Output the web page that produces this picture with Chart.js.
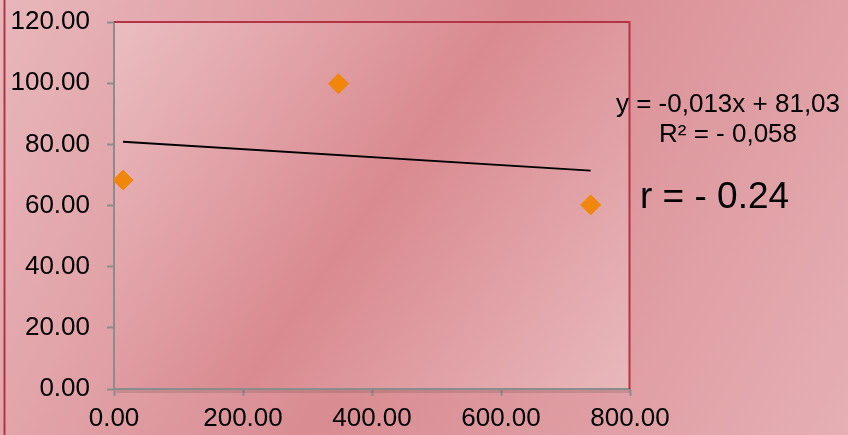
<!DOCTYPE html>
<html>
<head>
<meta charset="utf-8">
<script src="https://cdn.jsdelivr.net/npm/chart.js@4"></script>
<style>
  html, body { margin: 0; padding: 0; background: #dfa0a6; }
  canvas { display: block; }
</style>
</head>
<body>
<canvas id="scatterChart" width="848" height="435"></canvas>
<script>
// valores
const xValues = [14, 348, 739];
const yValues = [68.3, 99.8, 60.2];
const xTicks = [0, 200, 400, 600, 800];
const yTicks = [0, 20, 40, 60, 80, 100, 120];
const slope = -0.013;
const intercept = 81.03;
const equationText = 'y = -0,013x + 81,03';
const r2Text = 'R² = - 0,058';
const rText = 'r = - 0.24';

const FONT = '"Liberation Sans", Arial, sans-serif';

document.addEventListener('DOMContentLoaded', () => {
    const points = xValues.map((x, i) => ({ x: x, y: yValues[i] }));
    const xMin = Math.min(...xValues);
    const xMax = Math.max(...xValues);
    const trend = [xMin, xMax].map(x => ({ x: x, y: slope * x + intercept }));

    const backgroundPlugin = {
        id: 'fundo',
        beforeDraw(chart) {
            const ctx = chart.ctx;
            const w = chart.width, h = chart.height;
            ctx.save();
            let g = ctx.createLinearGradient(0, 0, w, h);
            g.addColorStop(0, '#e8b7bb');
            g.addColorStop(0.5, '#d98c92');
            g.addColorStop(1, '#e5afb4');
            ctx.fillStyle = g;
            ctx.fillRect(0, 0, w, h);

            const a = chart.chartArea;
            g = ctx.createLinearGradient(a.left, a.top, a.right, a.bottom);
            g.addColorStop(0, '#eabdc1');
            g.addColorStop(0.5, '#d98a90');
            g.addColorStop(1, '#e8b8bc');
            ctx.fillStyle = g;
            ctx.fillRect(a.left, a.top, a.right - a.left, a.bottom - a.top);

            // linha vermelha à esquerda
            ctx.strokeStyle = '#b23445';
            ctx.lineWidth = 2;
            ctx.beginPath();
            ctx.moveTo(4.5, 0);
            ctx.lineTo(4.5, h);
            ctx.stroke();
            ctx.restore();
        },
        afterDraw(chart) {
            const ctx = chart.ctx;
            const a = chart.chartArea;
            ctx.save();
            // borda superior e direita
            ctx.strokeStyle = '#b23445';
            ctx.lineWidth = 2;
            ctx.beginPath();
            ctx.moveTo(a.left, a.top);
            ctx.lineTo(a.right - 0.5, a.top);
            ctx.lineTo(a.right - 0.5, a.bottom);
            ctx.stroke();

            // sombra do eixo x
            ctx.fillStyle = 'rgba(90, 60, 60, 0.18)';
            ctx.fillRect(a.left + 2, a.bottom + 1, a.right - a.left - 2, 3);

            ctx.fillStyle = '#000';
            ctx.textAlign = 'center';
            ctx.textBaseline = 'alphabetic';
            ctx.font = '26px ' + FONT;
            ctx.fillText(equationText, 728, 112);
            ctx.fillText(r2Text, 728, 142);
            ctx.textAlign = 'left';
            ctx.font = '37px ' + FONT;
            ctx.fillText(rText, 640, 208);
            ctx.restore();
        }
    };

    const ctx = document.getElementById('scatterChart').getContext('2d');
    const chart = new Chart(ctx, {
        type: 'scatter',
        data: {
            datasets: [{
                label: 'Tendência',
                data: trend,
                showLine: true,
                borderColor: '#000000',
                borderWidth: 1.8,
                pointRadius: 0,
                fill: false
            }, {
                label: 'Dados',
                data: points,
                pointStyle: 'rectRot',
                pointRadius: 10,
                pointBackgroundColor: '#f0860b',
                pointBorderColor: '#f0860b',
                pointBorderWidth: 1
            }]
        },
        options: {
            responsive: false,
            devicePixelRatio: 1,
            animation: false,
            layout: { padding: { top: 22, right: 218, left: 0, bottom: 0 } },
            plugins: { legend: { display: false }, tooltip: { enabled: false } },
            scales: {
                x: {
                    type: 'linear',
                    min: xTicks[0],
                    max: xTicks[xTicks.length - 1],
                    afterBuildTicks: s => { s.ticks = xTicks.map(v => ({ value: v })); },
                    afterFit: s => { s.height = 46; s.paddingLeft = 0; s.paddingRight = 0; },
                    ticks: {
                        callback: v => Number(v).toFixed(2),
                        color: '#000',
                        font: { family: FONT, size: 26 },
                        padding: 7,
                        maxRotation: 0
                    },
                    grid: { drawOnChartArea: false, drawTicks: true, tickLength: 7, color: '#8c8c8c', tickWidth: 2 },
                    border: { display: true, color: '#8c8c8c', width: 2 }
                },
                y: {
                    min: yTicks[0],
                    max: yTicks[yTicks.length - 1],
                    afterBuildTicks: s => { s.ticks = yTicks.map(v => ({ value: v })); },
                    afterFit: s => { s.width = 114; s.paddingTop = 0; s.paddingBottom = 0; },
                    ticks: {
                        callback: v => Number(v).toFixed(2),
                        color: '#000',
                        font: { family: FONT, size: 26 },
                        padding: 17
                    },
                    grid: { drawOnChartArea: false, drawTicks: true, tickLength: 7, color: '#8c8c8c', tickWidth: 2 },
                    border: { display: true, color: '#8c8c8c', width: 2 }
                }
            }
        },
        plugins: [backgroundPlugin]
    });
});
</script>
</body>
</html>
